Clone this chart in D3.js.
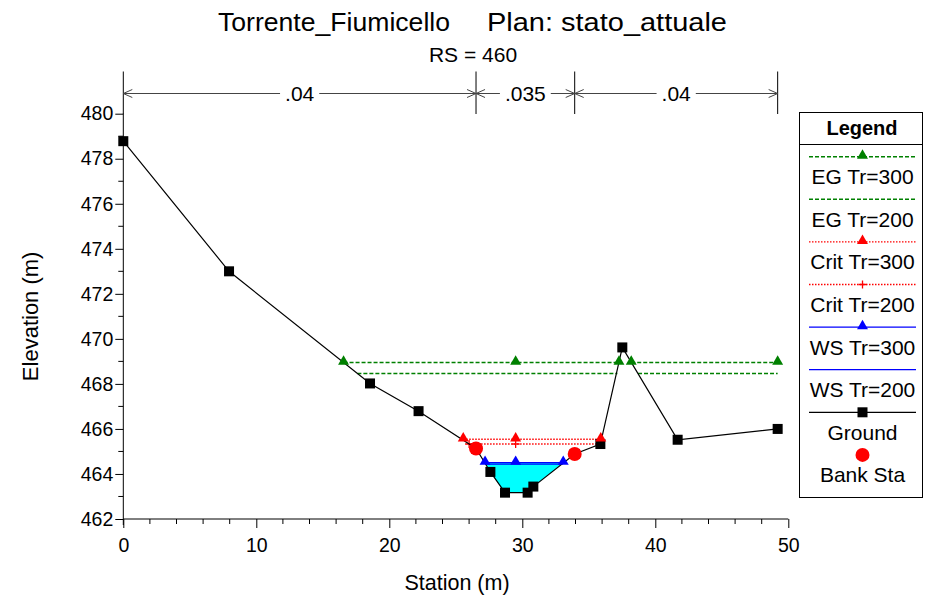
<!DOCTYPE html>
<html><head><meta charset="utf-8">
<script src="https://cdn.jsdelivr.net/npm/d3@7"></script>
<style>body{margin:0;background:#fff}svg{font-family:Arial,"Liberation Sans",sans-serif}</style>
</head><body><svg id="c" width="936" height="600"></svg>
<script>
// ---- data ----
const groundSta  = [0, 7.95, 18.55, 22.2, 26.52, 27.6, 28.7, 30.4, 30.83, 33.94, 35.87, 37.52, 41.68, 49.2];
const groundElev = [478.78, 473.0, 468.02, 466.79, 465.13, 464.09, 463.17, 463.17, 463.44, 464.89, 465.33, 469.62, 465.52, 466.0];
const bankSta  = [26.52, 33.94];
const bankElev = [465.13, 464.89];
const egTr300 = 468.95, egTr300Segs = [[16.56, 37.27], [38.19, 49.2]], egTr300Marks = [16.56, 29.5, 37.27, 38.19, 49.2];
const egTr200 = 468.46, egTr200Segs = [[17.6, 37.15], [38.7, 49.2]];
const critTr300 = 465.54, critTr300Segs = [[25.56, 35.9]], critTr300Marks = [25.56, 29.5, 35.9];
const critTr200 = 465.33, critTr200Segs = [[26.0, 35.87]], critTr200Marks = [26.0, 29.5, 35.85];
const wsTr300 = 464.5, wsTr300Segs = [[27.2, 33.08]], wsTr300Marks = [27.2, 29.5, 33.08];
const wsTr200 = 464.44, wsTr200Segs = [[27.25, 33.03]];
const manningSta = [0, 26.52, 33.94, 49.2];
const manningN = [".04", ".035", ".04"];
const xTicks = [0, 10, 20, 30, 40, 50];
const yTicks = [462, 464, 466, 468, 470, 472, 474, 476, 478, 480];
const legendLabels = ["EG Tr=300", "EG Tr=200", "Crit Tr=300", "Crit Tr=200", "WS Tr=300", "WS Tr=200", "Ground", "Bank Sta"];

// ---- layout ----
const FONT = "Arial,'Liberation Sans',sans-serif";
const svg = d3.select("#c");
const x = d3.scaleLinear().domain([0, 50]).range([123.3, 788.3]);
const y = d3.scaleLinear().domain([462, 480]).range([519, 113.7]);
const GREEN = "#008000", RED = "#ff0000", BLUE = "#0000ff";
const EG_W = 1.5, EG_D = "4,2", CR_W = 1.4, CR_D = "1.5,1.5";

// titles
svg.append("text").attr("x", 218).attr("y", 31).attr("font-size", 26.5).attr("textLength", 232).attr("lengthAdjust", "spacingAndGlyphs").text("Torrente_Fiumicello");
svg.append("text").attr("x", 487).attr("y", 31).attr("font-size", 26.5).attr("textLength", 240).attr("lengthAdjust", "spacingAndGlyphs").text("Plan: stato_attuale");
svg.append("text").attr("x", 473).attr("y", 62).attr("font-size", 21).attr("text-anchor", "middle").text("RS = 460");

// axes
const xAxis = d3.axisBottom(x).tickValues(xTicks).tickSize(9).tickFormat(d3.format("d"));
const gx = svg.append("g").attr("transform", `translate(0,${y(462)})`).call(xAxis);
gx.select(".domain").attr("d", `M${x(0)},0H${x(50)}`);
gx.selectAll("text").attr("font-size", 19.5).attr("font-family", FONT).attr("y", 19).attr("dy", "0.71em").attr("fill", "#000");
gx.selectAll(".minor").data(d3.range(2, 50, 2).filter(v => v % 10 !== 0)).enter().append("line")
  .attr("x1", d => x(d)).attr("x2", d => x(d)).attr("y1", 0).attr("y2", 5).attr("stroke", "#000");
const yAxis = d3.axisLeft(y).tickValues(yTicks).tickSize(8).tickFormat(d3.format("d"));
const gy = svg.append("g").attr("transform", `translate(${x(0)},0)`).call(yAxis);
gy.select(".domain").attr("d", `M0,${y(462) + 6}V${y(480)}`);
gy.selectAll("text").attr("font-size", 19.5).attr("font-family", FONT).attr("fill", "#000").attr("x", -10);
gy.selectAll(".minor").data(d3.range(463, 480, 2)).enter().append("line")
  .attr("x1", 0).attr("x2", -5).attr("y1", d => y(d)).attr("y2", d => y(d)).attr("stroke", "#000");

svg.append("text").attr("x", 457).attr("y", 590).attr("font-size", 21.5).attr("text-anchor", "middle").text("Station (m)");
svg.append("text").attr("transform", `translate(38,${(y(462) + y(480)) / 2}) rotate(-90)`).attr("font-size", 22).attr("text-anchor", "middle").text("Elevation (m)");

// manning n
const ny = 93.5;
manningSta.forEach(s => {
  svg.append("line").attr("x1", x(s)).attr("x2", x(s)).attr("y1", 71.5).attr("y2", 114).attr("stroke", "#000");
});
manningN.forEach((n, i) => {
  const a = x(manningSta[i]), b = x(manningSta[i + 1]), m = (a + b) / 2;
  const t = svg.append("text").attr("x", m).attr("y", ny + 7.5).attr("font-size", 21).attr("text-anchor", "middle").text(n);
  const w = t.node().getComputedTextLength() / 2 + 5;
  svg.append("line").attr("x1", a).attr("x2", m - w).attr("y1", ny).attr("y2", ny).attr("stroke", "#444");
  svg.append("line").attr("x1", m + w).attr("x2", b).attr("y1", ny).attr("y2", ny).attr("stroke", "#444");
  svg.append("path").attr("d", `M${a + 9},${ny - 4}L${a},${ny}L${a + 9},${ny + 4}M${b - 9},${ny - 4}L${b},${ny}L${b - 9},${ny + 4}`)
    .attr("fill", "none").attr("stroke", "#444");
});

// water fill (WS Tr=300 over ground)
const wsL = wsTr300Segs[0][0], wsR = wsTr300Segs[0][1];
const fillPts = [[wsL, wsTr300]];
groundSta.forEach((s, i) => { if (s > wsL && s < wsR) fillPts.push([s, groundElev[i]]); });
fillPts.push([wsR, wsTr300]);
svg.append("path").attr("d", d3.line().x(d => x(d[0])).y(d => y(d[1]))(fillPts) + "Z").attr("fill", "#00ffff");

// level lines
function levelLine(segs, elev, color, dash, width) {
  segs.forEach(sg => svg.append("line").attr("x1", x(sg[0])).attr("x2", x(sg[1])).attr("y1", y(elev)).attr("y2", y(elev))
    .attr("stroke", color).attr("stroke-width", width || 1).attr("stroke-dasharray", dash));
}
const tri = d3.symbol().type(d3.symbolTriangle).size(52);
function triMarks(sts, elev, color) {
  sts.forEach(s => svg.append("path").attr("d", tri()).attr("transform", `translate(${x(s)},${y(elev) - 1})`).attr("fill", color));
}
levelLine(egTr200Segs, egTr200, GREEN, EG_D, EG_W);
levelLine(egTr300Segs, egTr300, GREEN, EG_D, EG_W);
levelLine(critTr200Segs, critTr200, RED, CR_D, CR_W);
levelLine(critTr300Segs, critTr300, RED, CR_D, CR_W);
critTr200Marks.forEach(s => svg.append("path").attr("d", `M${x(s) - 4},${y(critTr200)}H${x(s) + 4}M${x(s)},${y(critTr200) - 4}V${y(critTr200) + 4}`).attr("stroke", RED).attr("stroke-width", 1.3).attr("fill", "none"));
levelLine(wsTr200Segs, wsTr200, BLUE, null, 1.2);
levelLine(wsTr300Segs, wsTr300, BLUE, null, 1.2);

// ground
const gpts = groundSta.map((s, i) => [s, groundElev[i]]);
svg.append("path").attr("d", d3.line().x(d => x(d[0])).y(d => y(d[1]))(gpts)).attr("fill", "none").attr("stroke", "#000").attr("stroke-width", 1.2);
svg.selectAll(".gm").data(gpts).enter().append("rect")
  .attr("x", d => x(d[0]) - 5).attr("y", d => y(d[1]) - 5).attr("width", 10).attr("height", 10).attr("fill", "#000");

triMarks(egTr300Marks, egTr300, GREEN);
triMarks(critTr300Marks, critTr300, RED);
triMarks(wsTr300Marks, wsTr300, BLUE);

// bank stations
svg.selectAll(".bk").data(bankSta).enter().append("circle")
  .attr("cx", d => x(d)).attr("cy", (d, i) => y(bankElev[i])).attr("r", 7).attr("fill", RED);

// legend
const lg = svg.append("g");
lg.append("rect").attr("x", 799.5).attr("y", 112.5).attr("width", 123).attr("height", 385).attr("fill", "#fff").attr("stroke", "#000");
lg.append("line").attr("x1", 799.5).attr("x2", 922.5).attr("y1", 144.5).attr("y2", 144.5).attr("stroke", "#000");
lg.append("text").attr("x", 862).attr("y", 135).attr("font-size", 20).attr("font-weight", "bold").attr("text-anchor", "middle").text("Legend");
const lx1 = 809, lx2 = 916, lcx = 862.5;
const legStyle = [
  {c: GREEN, d: EG_D, w: EG_W, m: "tri"}, {c: GREEN, d: EG_D, w: EG_W}, {c: RED, d: CR_D, w: CR_W, m: "tri"}, {c: RED, d: CR_D, w: CR_W, m: "plus"},
  {c: BLUE, d: null, w: 1.2, m: "tri"}, {c: BLUE, d: null, w: 1.2}, {c: "#000", d: null, w: 1.2, m: "sq"}, {c: RED, m: "dot"}
];
legendLabels.forEach((lab, i) => {
  const ly = 156.7 + i * 42.6;
  const st = legStyle[i];
  if (st.m !== "dot") lg.append("line").attr("x1", lx1).attr("x2", lx2).attr("y1", ly).attr("y2", ly).attr("stroke", st.c).attr("stroke-dasharray", st.d).attr("stroke-width", st.w);
  if (st.m === "tri") lg.append("path").attr("d", tri()).attr("transform", `translate(${lcx},${ly - 1})`).attr("fill", st.c);
  if (st.m === "plus") lg.append("path").attr("d", `M${lcx - 4},${ly}H${lcx + 4}M${lcx},${ly - 4}V${ly + 4}`).attr("stroke", st.c).attr("stroke-width", 1.3);
  if (st.m === "sq") lg.append("rect").attr("x", lcx - 5).attr("y", ly - 5).attr("width", 10).attr("height", 10).attr("fill", "#000");
  if (st.m === "dot") lg.append("circle").attr("cx", lcx).attr("cy", ly).attr("r", 7).attr("fill", RED);
  lg.append("text").attr("x", lcx).attr("y", ly + 27.5).attr("font-size", 21).attr("text-anchor", "middle").text(lab);
});
</script></body></html>
